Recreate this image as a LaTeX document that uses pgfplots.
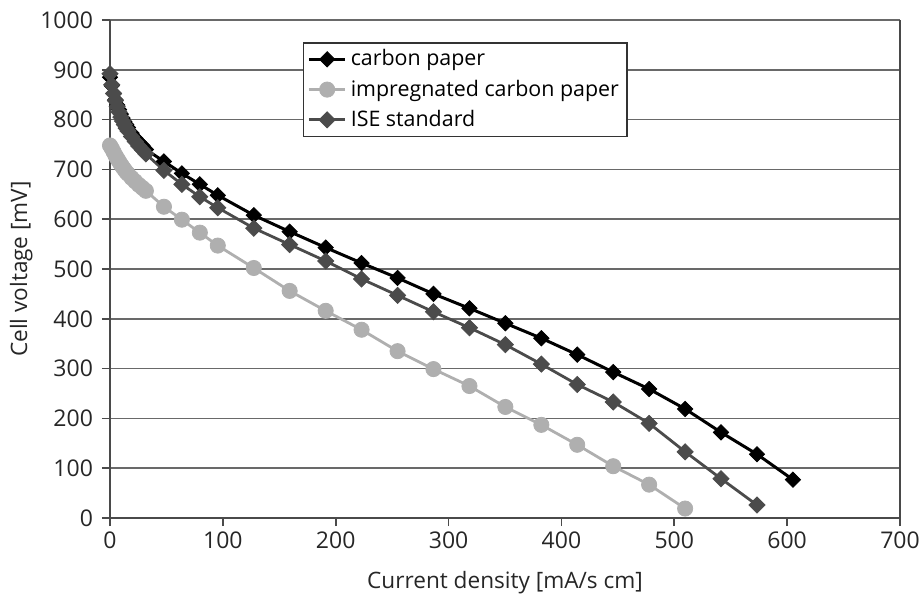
\documentclass[border=0pt]{standalone}
\usepackage{pgfplots}
\pgfplotsset{compat=1.18}
\usepackage{fontspec}
\setmainfont{Open Sans}
\definecolor{cpblack}{RGB}{0,0,0}
\definecolor{impgray}{RGB}{175,175,175}
\definecolor{isegray}{RGB}{75,75,75}
\definecolor{gridc}{RGB}{105,105,105}
\pgfplotstableread{
x y
0 885
1.6 868
3.2 853
4.8 840
6.4 829
8.0 820
9.6 811
11.1 803
12.7 796
14.3 790
15.9 784
19.1 773
22.3 763
25.5 755
28.7 748
31.8 740
47.8 716
63.7 692
79.6 670
95.5 648
127.4 608
159.2 575
191.1 543
222.9 512
254.8 482
286.6 450
318.5 421
350.3 391
382.2 361
414.0 328
445.9 293
477.7 259
509.6 219
541.4 172
573.3 128
605.1 77
}\carbon
\pgfplotstableread{
x y
0 748
1.6 742
3.2 735
4.8 728
6.4 722
8.0 716
9.6 710
11.1 705
12.7 700
14.3 695
15.9 691
19.1 683
22.3 676
25.5 669
28.7 663
31.8 657
47.8 625
63.7 599
79.6 573
95.5 547
127.4 502
159.2 456
191.1 416
222.9 378
254.8 335
286.6 299
318.5 265
350.3 223
382.2 187
414.0 147
445.9 104
477.7 67
509.6 19
}\impreg
\pgfplotstableread{
x y
0 892
1.6 870
3.2 852
4.8 838
6.4 826
8.0 815
9.6 805
11.1 797
12.7 790
14.3 783
15.9 777
19.1 766
22.3 756
25.5 747
28.7 739
31.8 731
47.8 698
63.7 670
79.6 645
95.5 623
127.4 582
159.2 549
191.1 516
222.9 480
254.8 447
286.6 414
318.5 382
350.3 348
382.2 309
414.0 268
445.9 233
477.7 190
509.6 133
541.4 79
573.3 26
}\ise
\begin{document}
\begin{tikzpicture}
\begin{axis}[
  name=ax,
  scale only axis,
  width=395pt, height=249pt,
  xmin=0, xmax=700, ymin=0, ymax=1000,
  xtick={0,100,...,700}, ytick={0,100,...,1000},
  axis x line*=bottom, axis y line*=left,
  axis line style={draw=gridc!70!black, line width=0.8pt, -},
  tick style={draw=gridc!70!black, line width=0.8pt},
  tick align=outside, major tick length=4pt,
  ymajorgrids, grid style={draw=gridc, line width=0.8pt},
  /pgf/number format/assume math mode=true,
  /pgf/number format/1000 sep={},
  ticklabel style={font=\fontsize{11.5}{13}\selectfont, text=black!85},
  xticklabel style={yshift=0.5pt},
  yticklabel style={xshift=-1pt},
  xlabel={Current density [mA/s cm]},
  ylabel={Cell voltage [mV]},
  label style={font=\fontsize{11.3}{13}\selectfont, text=black!85},
  xlabel style={yshift=-4.5pt},
  ylabel style={yshift=-3pt},
  legend style={at={(0.244,0.956)}, anchor=north west, draw=black!80, line width=0.8pt,
    font=\fontsize{10.7}{12}\selectfont, row sep=1.5pt, inner xsep=2pt, inner ysep=1.5pt},
  legend cell align=left,
  legend image post style={line width=1.4pt},
  legend image code/.code={\draw[mark repeat=2,mark phase=2] plot coordinates {(0cm,0cm) (0.32cm,0cm) (0.64cm,0cm)};},
  clip=false,
]
\addplot[cpblack, line width=1.5pt, mark=square*, mark size=2.7pt, mark options={rotate=45, solid, fill=cpblack, line width=0.4pt}] table {\carbon};
\addlegendentry{carbon paper}
\addplot[impgray, line width=1.4pt, mark=*, mark size=3.8pt, mark options={solid, fill=impgray, draw=impgray, line width=0.4pt}] table {\impreg};
\addlegendentry{impregnated carbon paper}
\addplot[isegray, line width=1.4pt, mark=square*, mark size=2.85pt, mark options={rotate=45, solid, fill=isegray, line width=0.4pt}] table {\ise};
\addlegendentry{ISE standard}
\draw[gridc!70!black, line width=0.8pt] (axis cs:700,0) -- (axis cs:700,1000);
\end{axis}
\pgfresetboundingbox
\path ([shift={(-55pt,-42.75pt)}]ax.south west) rectangle ([shift={(12pt,10pt)}]ax.north east);
\end{tikzpicture}
\end{document}
